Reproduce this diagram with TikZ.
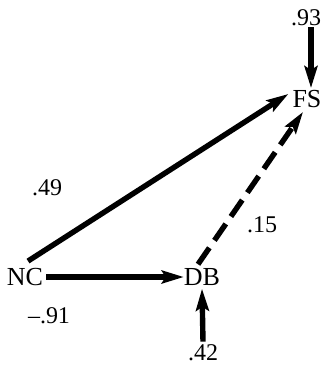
\documentclass[tikz,border=0pt]{standalone}
\usepackage{fontspec}
\setmainfont{Liberation Serif}
\usetikzlibrary{arrows.meta}
\begin{document}
\begin{tikzpicture}[x=1pt,y=-1pt,
  var/.style={inner sep=0pt,font=\fontsize{26}{28}\selectfont},
  coef/.style={inner sep=0pt,font=\fontsize{24}{26}\selectfont},
  path/.style={line width=5.4pt,-{Stealth[length=22pt,width=13pt,inset=4pt]}},
  weak/.style={path,dash pattern=on 20pt off 9pt}]
\useasboundingbox (0,0) rectangle (322,365);
% variables
\node[var] (nc) at (25,277) {NC};
\node[var] (db) at (202,277) {DB};
\node[var] (fs) at (307,99) {FS};
% residual and path coefficients
\node[coef] (r93) at (306,18) {.93};
\node[coef] (r42) at (203,353) {.42};
\node[coef] (c49) at (47,188) {.49};
\node[coef] (c15) at (262,225) {.15};
\node[coef] (c91) at (49,316) {--.91};
% paths
\draw[path] ([xshift=3pt,yshift=7pt]nc.north) -- ([xshift=-4pt,yshift=5pt]fs.west);
\draw[path] ([xshift=3pt]nc.east) -- (db.west);
\draw[weak] ([xshift=-4pt,yshift=4pt]db.north) -- ([xshift=-4pt,yshift=-4pt]fs.south);
\draw[path] ([xshift=5pt,yshift=-1pt]r93.south) -- ([xshift=4pt,yshift=2pt]fs.north);
\draw[path] ([yshift=3pt]r42.north) -- ([yshift=-3pt]db.south);
\end{tikzpicture}
\end{document}
